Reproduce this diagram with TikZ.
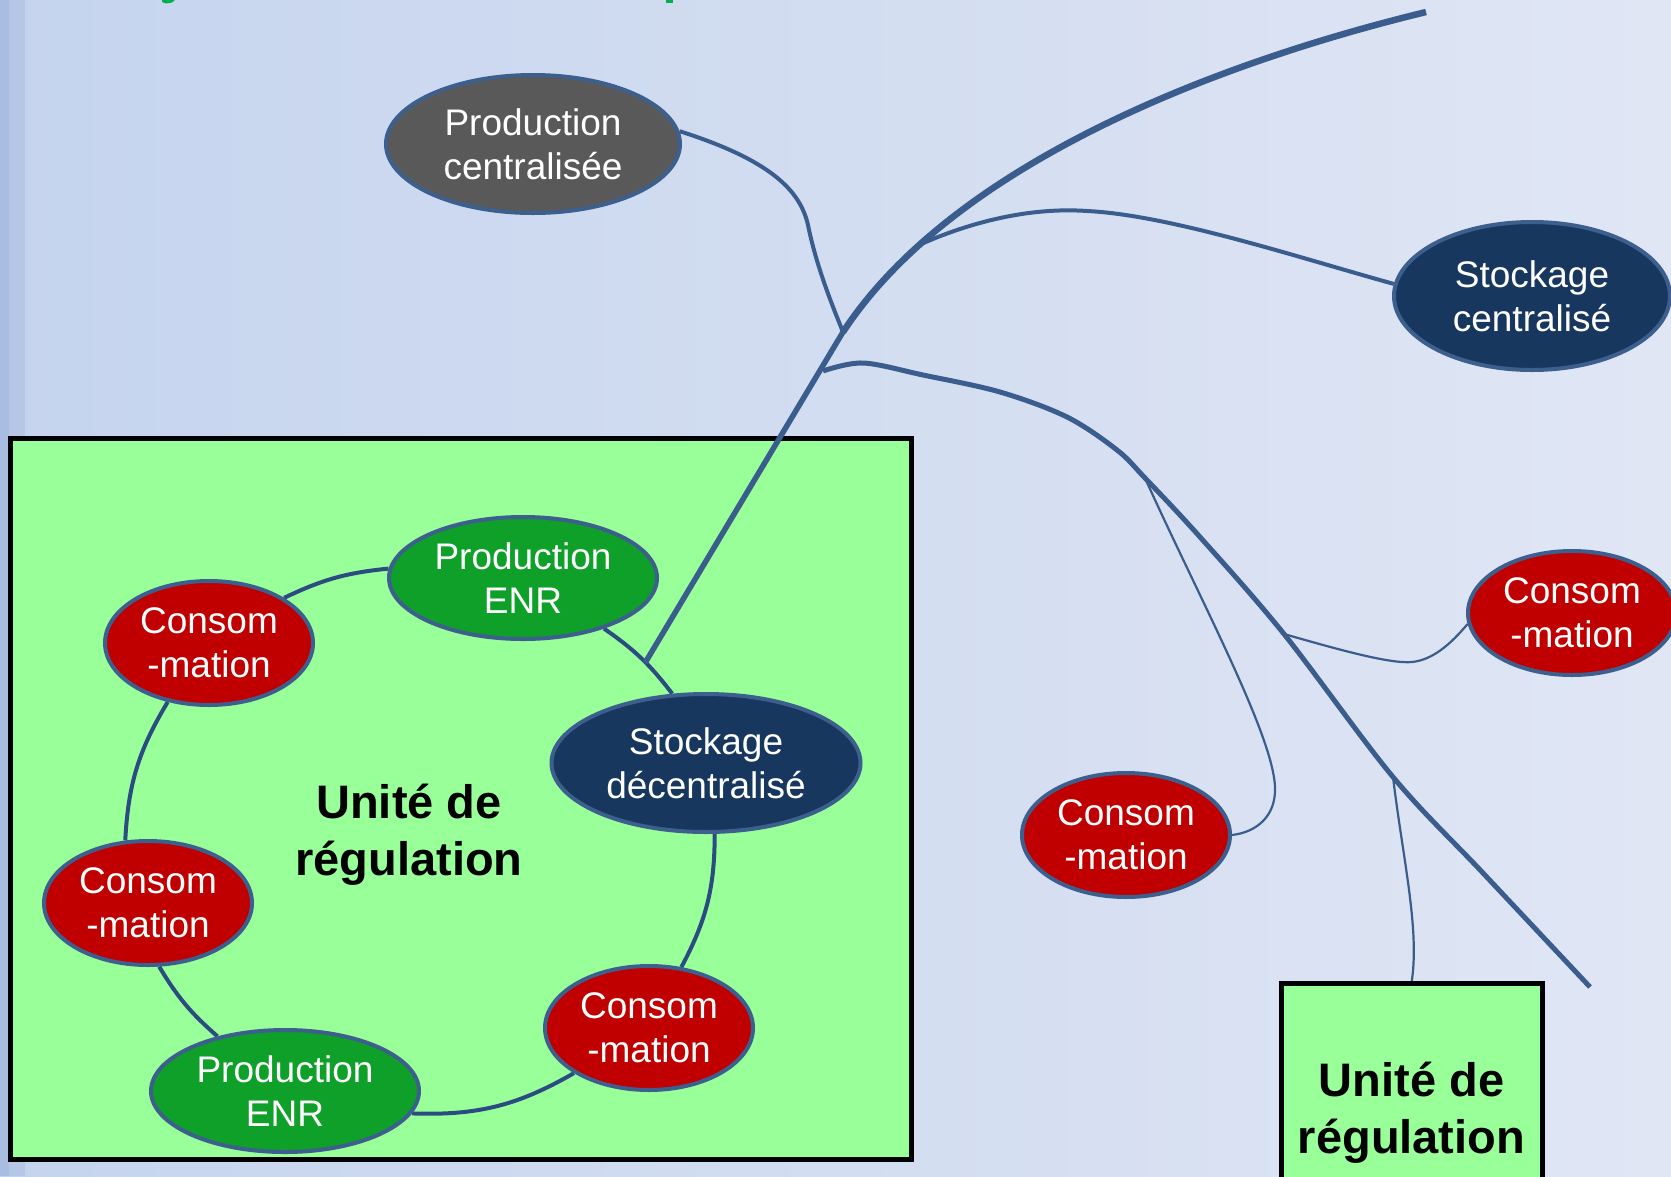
\documentclass[tikz,border=0pt]{standalone}
\usepackage{fontspec}
\setmainfont{Liberation Sans}
\usetikzlibrary{shapes.geometric}

\definecolor{bgleft}{HTML}{C5D4EE}
\definecolor{bgright}{HTML}{E0E6F4}
\definecolor{stripA}{HTML}{A9BCE1}
\definecolor{stripB}{HTML}{B5C6E6}
\definecolor{wire}{HTML}{3A5D8D}
\definecolor{ringwire}{HTML}{2B4C81}
\definecolor{rim}{HTML}{3C5F8E}
\definecolor{consred}{HTML}{C00000}
\definecolor{enrgreen}{HTML}{0EA028}
\definecolor{navy}{HTML}{17375E}
\definecolor{plantgray}{HTML}{595959}
\definecolor{boxgreen}{HTML}{99FF99}
\definecolor{titlegreen}{HTML}{00B050}

\pgfdeclarelayer{back}
\pgfdeclarelayer{lines}
\pgfsetlayers{back,lines,main}

\tikzset{
  blob/.style={ellipse, draw=rim, line width=4pt, inner sep=0pt, text=white,
    align=center, font=\fontsize{37}{44}\selectfont},
  cons/.style={blob, fill=consred, minimum width=208pt, minimum height=124pt},
  enr/.style={blob, fill=enrgreen, minimum width=268pt, minimum height=122pt},
  store/.style={blob, fill=navy},
  plant/.style={blob, fill=plantgray},
  regbox/.style={draw=black, line width=5pt, fill=boxgreen, outer sep=0pt},
  regtext/.style={align=center, font=\bfseries\fontsize{47}{57}\selectfont},
  trunkline/.style={draw=wire, line width=5.5pt},
  feeder/.style={draw=wire, line width=4pt},
  thinfeeder/.style={draw=wire, line width=2.2pt},
  ring/.style={draw=ringwire, line width=4pt},
}

\begin{document}
\begin{tikzpicture}[x=1pt, y=-1pt]
\useasboundingbox (0,0) rectangle (1671,1176);

\begin{pgfonlayer}{back}
  % slide background
  \shade[left color=bgleft, right color=bgright] (0,0) rectangle (1671,1176);
  \fill[stripA] (0,0) rectangle (9,1176);
  \fill[stripB] (9,0) rectangle (25,1176);
  % descenders of the heading above
  \fill[titlegreen] (162,0) -- (175,0) -- (172,2.5) -- (166,3.5) -- (162,2) -- cycle;
  \fill[titlegreen] (666,0) rectangle (673,3);
  % local regulation area
  \draw[regbox] (10,438.5) rectangle (911,1159);
\end{pgfonlayer}

% nodes of the network
\node[plant, minimum width=294pt, minimum height=138pt] (pc) at (533,144) {Production\\centralisée};
\node[store, minimum width=276pt, minimum height=148pt] (sc) at (1532,296) {Stockage\\centralisé};
\node[cons] (cm) at (1126,835) {Consom\\-mation};
\node[cons] (cr) at (1572,613) {Consom\\-mation};
\node[regbox, regtext, anchor=north, minimum width=261pt, minimum height=260pt] (ur) at (1411.5,983) {Unité de\\régulation};

% nodes of the regulation ring
\node[regtext] (lbl) at (409,835) {Unité de\\régulation};
\node[enr] (e1) at (523,578) {Production\\ENR};
\node[cons] (c1) at (209,643) {Consom\\-mation};
\node[store, minimum width=309pt, minimum height=138pt] (sd) at (706,763) {Stockage\\décentralisé};
\node[cons] (c2) at (148,903) {Consom\\-mation};
\node[enr] (e2) at (285,1091) {Production\\ENR};
\node[cons] (c3) at (649,1028) {Consom\\-mation};

% junction points along the lines
\coordinate (top) at (1426,12);
\coordinate (j1) at (843,332);
\coordinate (j2) at (919,245);
\coordinate (j3) at (823,371);
\coordinate (j0) at (645,663);
\coordinate (k1) at (1145,478);
\coordinate (k2) at (1284,634);
\coordinate (k3) at (1393,777);
\coordinate (k4) at (1590,987);

\begin{pgfonlayer}{lines}
  % ring inside the regulation area
  \draw[ring] (c1.31) to[bend left=10] (e1.176);
  \draw[ring] (e1.-32) to[bend left=9] (sd.116);
  \draw[ring] (sd.-83) to[bend left=14] (c3.62);
  \draw[ring] (c3.211) to[bend left=16] (e2.-10);
  \draw[ring] (e2.141) to[bend left=9] (c2.-80);
  \draw[ring] (c2.110) to[bend left=14] (c1.235);

  % main line
  \draw[trunkline, line width=6.5pt] (top) .. controls (1180,72) and (944,178) .. (j1);
  \draw[trunkline] (j1) -- (j0);
  \draw[trunkline, line width=5pt] plot[smooth, tension=0.55] coordinates
    {(j3) (863,363) (923,375) (1000,392) (1067,417) (1117,450) (k1)
     (1200,537) (k2) (k3) (1483,873) (k4)};

  % feeders
  \draw[feeder] (pc.5) .. controls (770,160) and (800,190) .. (808,225)
                       .. controls (816,265) and (832,305) .. (j1);
  \draw[feeder] (j2) .. controls (970,222) and (1030,207) .. (1087,211)
                     .. controls (1170,215) and (1300,258) .. (sc.175);
  \draw[thinfeeder] (k1) .. controls (1200,600) and (1276,740) .. (1275,790)
                         .. controls (1275,815) and (1258,832) .. (cm.east);
  \draw[thinfeeder] (k2) .. controls (1340,650) and (1390,664) .. (1412,662)
                         .. controls (1432,660) and (1450,645) .. (cr.186);
  \draw[thinfeeder] (k3) .. controls (1403,860) and (1420,930) .. (ur.north);
\end{pgfonlayer}
\end{tikzpicture}
\end{document}
